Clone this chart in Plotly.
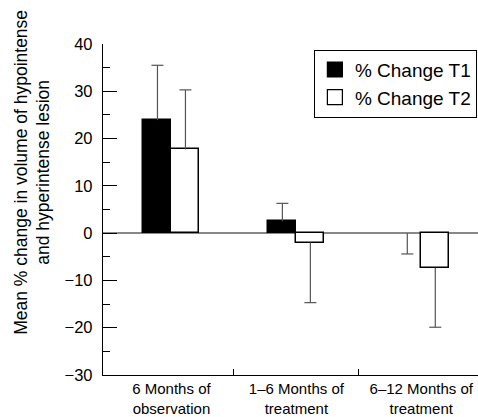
import plotly.graph_objects as go

categories = ["6 Months of<br>observation", "1–6 Months of<br>treatment", "6–12 Months of<br>treatment"]
t1_values = [23.9, 2.5, 0.0]
t1_errors = [11.6, 3.8, -4.4]
t2_values = [17.7, -2.0, -7.3]
t2_errors = [12.6, -12.7, -12.6]
series_names = ["% Change T1", "% Change T2"]
y_ticks = [-30, -20, -10, 0, 10, 20, 30, 40]

n = len(categories)
pos = list(range(n))
bw = 0.224
off = bw / 2
cap = 0.048

def whiskers(xs, vals, errs):
    lx, ly = [], []
    for x, v, e in zip(xs, vals, errs):
        end = v + e
        lx += [x, x, None, x - cap, x + cap, None]
        ly += [v, end, None, end, end, None]
    return lx, ly

def outline(vals):
    return [0 if v == 0 else 1.5 for v in vals]

fig = go.Figure()
x1 = [p - off for p in pos]
x2 = [p + off for p in pos]
fig.add_trace(go.Bar(x=x1, y=t1_values, width=bw,
                     marker=dict(color="black", line=dict(color="black", width=outline(t1_values))), showlegend=False))
fig.add_trace(go.Bar(x=x2, y=t2_values, width=bw,
                     marker=dict(color="white", line=dict(color="black", width=outline(t2_values))), showlegend=False))
for xs, vals, errs in [(x1, t1_values, t1_errors), (x2, t2_values, t2_errors)]:
    lx, ly = whiskers(xs, vals, errs)
    fig.add_trace(go.Scatter(x=lx, y=ly, mode="lines", line=dict(color="#555", width=1.2), showlegend=False, hoverinfo="skip"))
for name, col in zip(series_names, ["black", "white"]):
    fig.add_trace(go.Scatter(x=[None], y=[None], mode="markers", name=name,
                             marker=dict(symbol="square", size=15, color=col, line=dict(color="black", width=1.2))))

fig.update_layout(
    width=478, height=417,
    margin=dict(l=103, r=0, t=44, b=40),
    paper_bgcolor="white", plot_bgcolor="white",
    font=dict(family="Liberation Sans, Arial, sans-serif", color="black"),
    bargap=0,
    showlegend=True,
    legend=dict(x=0.997, xanchor="right", y=0.983, yanchor="top",
                bgcolor="white", bordercolor="black", borderwidth=1,
                font=dict(size=19), itemsizing="trace", tracegroupgap=0),
    xaxis=dict(range=[-0.548, 2.454], tickvals=pos, ticktext=categories, ticks="",
               showline=True, linecolor="black", linewidth=1.3, showgrid=False, zeroline=False,
               tickfont=dict(size=15),
               minor=dict(tickmode="array", tickvals=[p + 0.5 for p in pos[:-1]], ticks="inside",
                          ticklen=6, tickwidth=1.2, tickcolor="black", showgrid=False)),
    yaxis=dict(range=[-30, 40], tickvals=y_ticks, ticks="inside", ticklen=14, tickwidth=1.3, tickcolor="black",
               showline=True, linecolor="black", linewidth=1.3, showgrid=False,
               zeroline=True, zerolinecolor="#888", zerolinewidth=1.8,
               tickfont=dict(size=16.5), ticklabelstandoff=6,
               minor=dict(dtick=5, ticks="inside", ticklen=7, tickwidth=1.2, tickcolor="black", showgrid=False)),
    annotations=[dict(text="Mean % change in volume of hypointense<br>and hyperintense lesion",
                      xref="paper", yref="paper", x=-0.19, y=0.613, xanchor="center", yanchor="middle",
                      textangle=-90, showarrow=False, font=dict(size=17.5))],
)

fig.write_html("out.html", config={"displayModeBar": False},
               post_script="document.body.style.margin='0';document.body.style.overflow='hidden';")
